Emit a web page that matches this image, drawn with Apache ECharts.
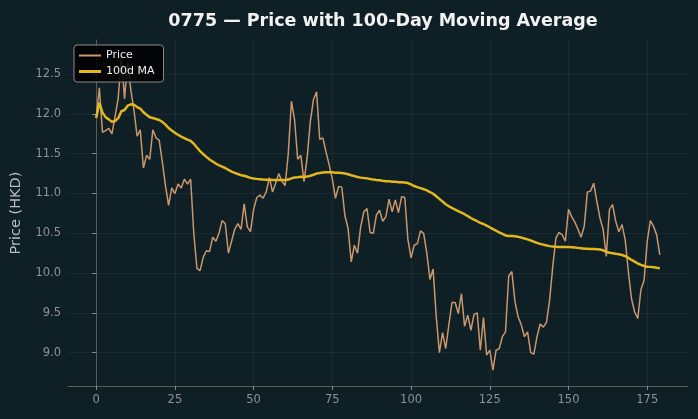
<!DOCTYPE html>
<html lang="en">
<head>
    <meta charset="UTF-8">
    <title>0775 - Price with 100-Day MA</title>
    <script src="https://cdn.jsdelivr.net/npm/echarts@6/dist/echarts.min.js"></script>
    <style>
        html,body{margin:0;padding:0;background:#0f1f26;}
        #chart{width:698px;height:419px;}
    </style>
</head>
<body>
<div id="chart"></div>
<script>
    // daily closing price, day 0..179
    const prices = [
        11.95, 12.33, 11.77, 11.79, 11.82, 11.75, 11.97, 12.20, 12.73, 12.19,
        12.65, 12.30, 12.05, 11.72, 11.80, 11.32, 11.48, 11.43, 11.80, 11.70,
        11.67, 11.40, 11.10, 10.85, 11.07, 11.00, 11.12, 11.07, 11.18, 11.12,
        11.18, 10.50, 10.06, 10.03, 10.20, 10.28, 10.27, 10.45, 10.40, 10.50,
        10.66, 10.62, 10.25, 10.40, 10.55, 10.62, 10.55, 10.87, 10.58, 10.52,
        10.80, 10.95, 10.98, 10.94, 11.02, 11.20, 11.02, 11.13, 11.25, 11.15,
        11.10, 11.50, 12.16, 11.93, 11.43, 11.48, 11.15, 11.45, 11.90, 12.18,
        12.28, 11.68, 11.70, 11.52, 11.36, 11.18, 10.94, 11.09, 11.08, 10.72,
        10.56, 10.14, 10.35, 10.25, 10.58, 10.77, 10.81, 10.51, 10.50, 10.73,
        10.79, 10.65, 10.71, 10.93, 10.77, 10.92, 10.76, 10.96, 10.95, 10.42,
        10.19, 10.35, 10.37, 10.53, 10.50, 10.25, 9.92, 10.05, 9.45, 9.00,
        9.25, 9.05, 9.35, 9.63, 9.63, 9.49, 9.74, 9.33, 9.47, 9.28,
        9.48, 9.50, 9.03, 9.44, 8.97, 9.03, 8.78, 9.03, 9.05, 9.20,
        9.26, 9.96, 10.02, 9.64, 9.45, 9.35, 9.20, 9.26, 9.00, 8.98,
        9.20, 9.36, 9.32, 9.38, 9.66, 10.08, 10.44, 10.51, 10.48, 10.40,
        10.80, 10.71, 10.64, 10.55, 10.45, 10.59, 11.02, 11.03, 11.13, 10.90,
        10.69, 10.55, 10.21, 10.80, 10.86, 10.65, 10.52, 10.61, 10.42, 10.02,
        9.68, 9.51, 9.43, 9.79, 9.91, 10.40, 10.66, 10.59, 10.48, 10.23
    ];
    const maWindow = 100;
    const xTicks = [0, 25, 50, 75, 100, 125, 150, 175];
    const yTicks = [9.0, 9.5, 10.0, 10.5, 11.0, 11.5, 12.0, 12.5];

    // rolling mean, shorter window at the start
    let priceData = [], maData = [];
    for (let i = 0; i < prices.length; i++) {
        let from = Math.max(0, i - maWindow + 1), s = 0;
        for (let j = from; j <= i; j++) s += prices[j];
        priceData.push([i, prices[i]]);
        maData.push([i, s / (i - from + 1)]);
    }

    // legend line samples; corner dots only fix the 22x10 box
    let boxDots = 'M0,0H0.01V0.01H0Z M21.99,9.99H22V10H21.99Z ';
    let iconPrice = 'path://' + boxDots + 'M0,4.1H22V5.9H0Z';
    let iconMa = 'path://' + boxDots + 'M0,3.6H22V6.4H0Z';

    let myChart = echarts.init(document.getElementById('chart'));
    let gridLine = {show: true, lineStyle: {color: 'rgba(255,255,255,0.05)', width: 1}};
    let option = {
        backgroundColor: '#0f1f26',
        animation: false,
        title: {
            text: '0775 — Price with 100-Day Moving Average',
            left: 378,
            top: 7,
            textAlign: 'center',
            textStyle: {color: '#f2f2f2', fontSize: 17.5, fontWeight: 'bold', fontFamily: 'DejaVu Sans'}
        },
        legend: {
            left: 74,
            top: 45,
            orient: 'vertical',
            backgroundColor: 'rgba(0,0,0,0.85)',
            borderColor: '#8a8a8a',
            borderWidth: 1,
            borderRadius: 3,
            padding: [5, 9, 5, 5],
            itemGap: 5,
            itemWidth: 22,
            itemHeight: 10,
            textStyle: {color: '#eeeeee', fontSize: 11, fontFamily: 'DejaVu Sans'},
            data: [
                {name: 'Price', icon: iconPrice},
                {name: '100d MA', icon: iconMa}
            ]
        },
        grid: {left: 68, right: 10, top: 40, bottom: 33},
        xAxis: {
            type: 'value',
            min: -8.95,
            max: 187.95,
            axisLine: {show: true, lineStyle: {color: '#5e5a55', width: 1}},
            axisTick: {show: true, length: 4, customValues: xTicks, lineStyle: {color: '#8a8a8a'}},
            axisLabel: {customValues: xTicks, color: '#8e9193', fontSize: 11.5, margin: 8, fontFamily: 'DejaVu Sans'},
            splitLine: gridLine
        },
        yAxis: {
            type: 'value',
            min: 8.58,
            max: 12.93,
            name: 'Price (HKD)',
            nameLocation: 'middle',
            nameGap: 44,
            nameTextStyle: {color: '#b8bcbe', fontSize: 14.5, fontFamily: 'DejaVu Sans'},
            axisLine: {show: true, lineStyle: {color: '#5e5a55', width: 1}},
            axisTick: {show: true, length: 4, customValues: yTicks, lineStyle: {color: '#8a8a8a'}},
            axisLabel: {
                customValues: yTicks, color: '#8e9193', fontSize: 11.5, margin: 7, fontFamily: 'DejaVu Sans',
                formatter: function (v) { return v.toFixed(1); }
            },
            splitLine: gridLine
        },
        series: [
            {
                name: 'Price',
                type: 'line',
                data: priceData,
                symbol: 'none',
                lineStyle: {color: '#c9976b', width: 1.5},
                itemStyle: {color: '#c9976b'},
                z: 2
            },
            {
                name: '100d MA',
                type: 'line',
                data: maData,
                symbol: 'none',
                lineStyle: {color: '#e2b81e', width: 2.5},
                itemStyle: {color: '#e2b81e'},
                z: 3
            }
        ]
    };
    myChart.setOption(option);
</script>
</body>
</html>
